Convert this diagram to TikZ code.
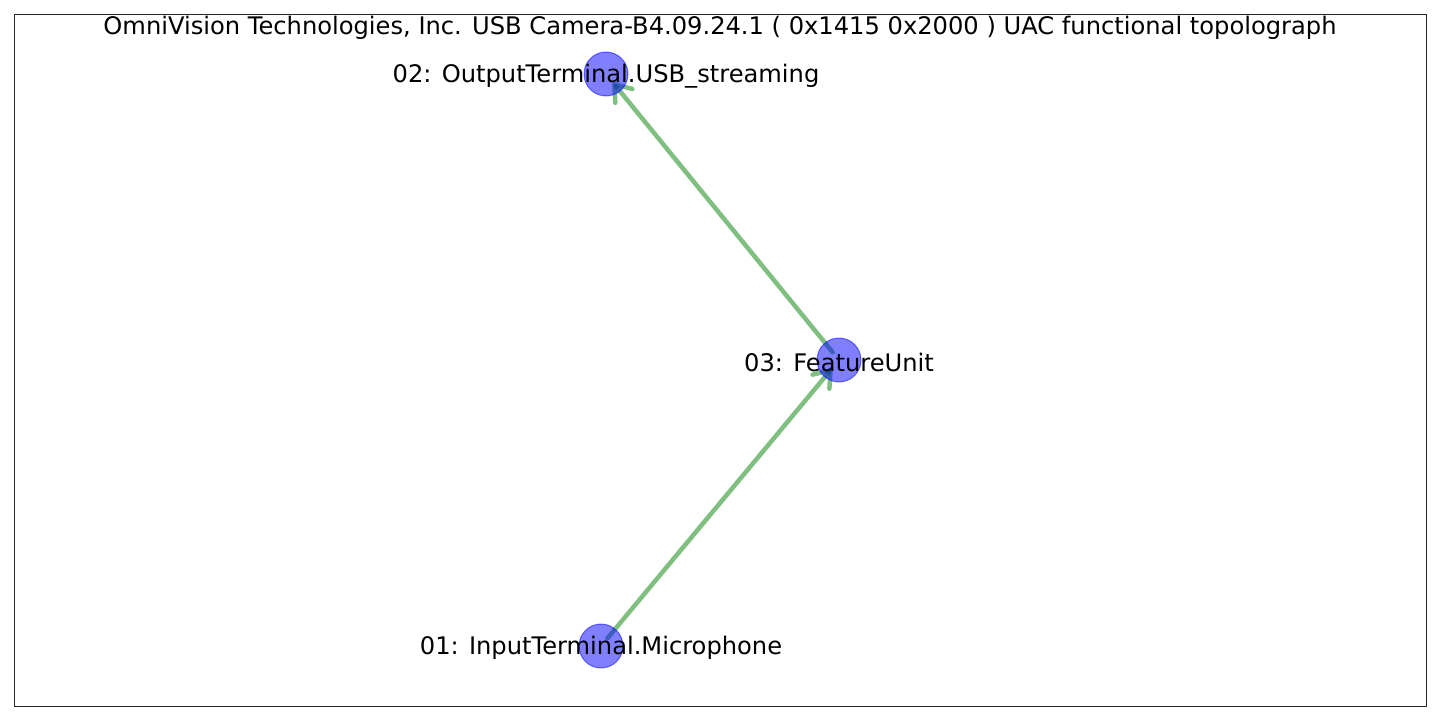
\documentclass[tikz,border=0pt]{standalone}
\usepackage{fontspec}
\setmainfont{DejaVu Sans}
\usetikzlibrary{arrows.meta}
\definecolor{mplgreen}{HTML}{008000}
\tikzset{
  vertex/.style={circle, minimum size=44*0.72bp, inner sep=0pt, fill=blue, fill opacity=0.5, draw=blue, draw opacity=0.5, line width=0.72bp},
  lbl/.style={font=\fontsize{17.4bp}{20bp}\selectfont, text=black, inner sep=0pt, yshift=-2*0.72bp},
  edge/.style={draw=mplgreen, draw opacity=0.5, line width=4.5*0.72bp, line cap=round, line join=round,
    -{Straight Barb[length=15*0.72bp, width=22*0.72bp, line width=4.5*0.72bp, round]}},
  frame/.style={draw=black!85, line width=0.8*0.72bp}
}
\begin{document}
\begin{tikzpicture}[x=0.72bp, y=-0.72bp]
\useasboundingbox (0,0) rectangle (1440,720);
\draw[frame] (14,14) rectangle (1426,706);
% node positions
\coordinate (p2) at (606,74);
\coordinate (p3) at (839,360);
\coordinate (p1) at (601,646);
% edges
\draw[edge, shorten <=10*0.72bp, shorten >=11*0.72bp] (p1) -- (p3);
\draw[edge, shorten <=10*0.72bp, shorten >=11*0.72bp] (p3) -- (p2);
% vertices
\node[vertex] (n2) at (p2) {};
\node[vertex] (n3) at (p3) {};
\node[vertex] (n1) at (p1) {};
% labels
\node[lbl] (l2) at (p2) {02: OutputTerminal.USB\_streaming};
\node[lbl] (l3) at (p3) {03: FeatureUnit};
\node[lbl] (l1) at (p1) {01: InputTerminal.Microphone};
\node[lbl] (title) at (720,26) {OmniVision Technologies, Inc. USB Camera-B4.09.24.1 ( 0x1415 0x2000 ) UAC functional topolograph};
\end{tikzpicture}
\end{document}
